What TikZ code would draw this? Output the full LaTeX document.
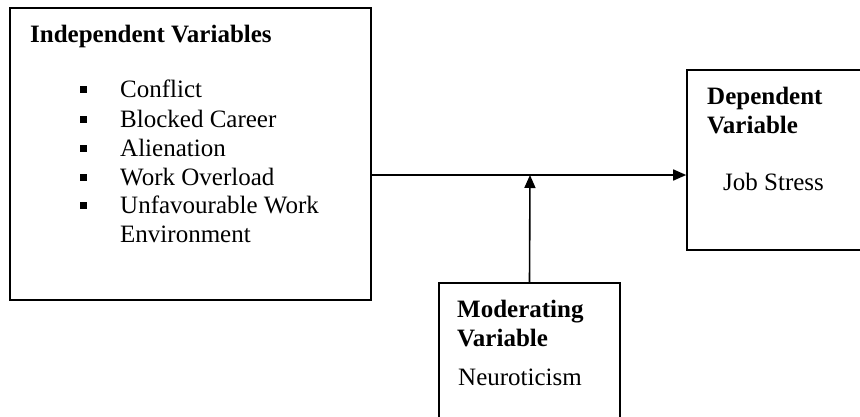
\documentclass[tikz,border=0pt]{standalone}
\usepackage{fontspec}
\setmainfont{Liberation Serif}
\usetikzlibrary{arrows.meta}

\begin{document}
\begin{tikzpicture}[x=1pt, y=-1pt, >={Triangle[length=13pt,width=11pt]},
        every node/.style={font=\fontsize{25}{29}\selectfont},
        box/.style={draw, line width=1.6pt, inner sep=0pt},
        txt/.style={anchor=base west, inner sep=0pt},
        head/.style={txt, font=\fontsize{25}{29}\selectfont\bfseries}]
                \useasboundingbox (0,0) rectangle (860,416);
                \clip (0,0) rectangle (860,416);

                % boxes
                \node[box, minimum width=361pt, minimum height=292pt] (indep) at (190.5,154) {};
                \node[box, minimum width=213pt, minimum height=180pt] (dep) at (793.5,160) {};
                \node[box, minimum width=181pt, minimum height=157pt] (mod) at (529.5,361.5) {};

                % independent variables
                \node[head] (indeptitle) at (30,42) {Independent Variables};
                \foreach \yb/\item [count=\i] in {97/Conflict, 127/Blocked Career, 156/Alienation, 185/Work Overload, 213/Unfavourable Work} {
                    \node[txt] (bullet\i) at (80,\yb) {\raisebox{4pt}{\rule{7pt}{7pt}}};
                    \node[txt] (item\i) at (120,\yb) {\item};
                }
                \node[txt] (item6) at (120,242) {Environment};

                % dependent variable
                \node[head] (deptitle) at (707,104) {Dependent};
                \node[head] (deptitleb) at (707,133) {Variable};
                \node[txt] (depitem) at (723,190) {Job Stress};

                % moderating variable
                \node[head] (modtitle) at (457,317) {Moderating};
                \node[head] (modtitleb) at (457,346) {Variable};
                \node[txt] (moditem) at (458,385) {Neuroticism};

                % connectors
                \coordinate (meet) at (530,175);
                \draw[->, line width=1.6pt] (indep.east |- meet) -- (dep.west |- meet);
                \draw[->, line width=1.6pt] (mod.north) -- (meet);
            \end{tikzpicture}
\end{document}
